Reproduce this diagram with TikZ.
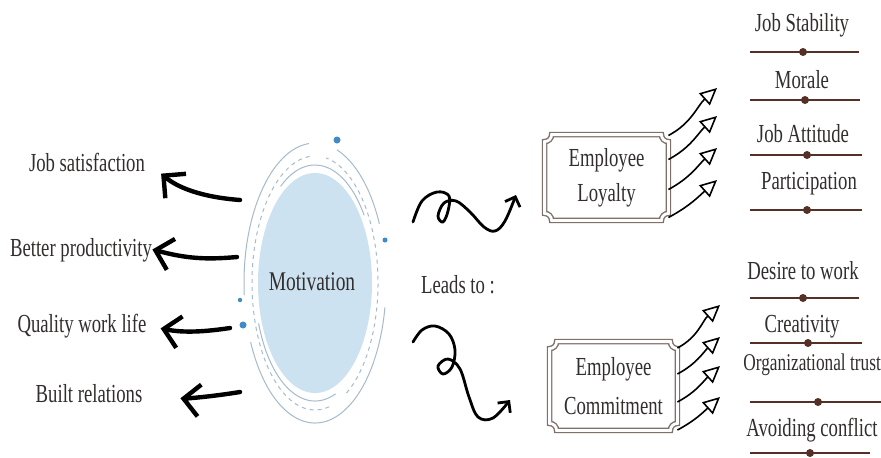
\documentclass[tikz,border=0pt]{standalone}
\usepackage{fontspec}
\setmainfont{Liberation Serif}[FakeStretch=0.72]
\usepackage{tikz}
\usetikzlibrary{arrows.meta}
\usetikzlibrary{positioning}

\definecolor{ink}{RGB}{50,46,45}
\definecolor{skyfill}{RGB}{205,226,241}
\definecolor{ringgray}{RGB}{165,187,205}
\definecolor{dotblue}{RGB}{64,138,200}
\definecolor{rulebrown}{RGB}{84,48,38}
\definecolor{framegray}{RGB}{128,112,106}

\tikzset{
  lbl/.style={text=ink, font=\fontsize{13}{17.5}\selectfont, inner sep=1pt},
  fatarrow/.style={line width=2.2pt, -{Straight Barb[length=8pt,width=16pt]}, line cap=round, line join=round},
  curl/.style={line width=1.4pt, -{Straight Barb[length=4pt,width=8pt]}, line cap=round, line join=round},
  thinarrow/.style={line width=0.8pt, -{Triangle[open,length=8.5pt,width=8pt]}},
  tagframe/.style={draw=framegray, line width=0.7pt, double=white, double distance=1.4pt},
  ring/.style={ringgray, line width=0.5pt},
  rulebar/.style={rulebrown, line width=1.4pt},
}

\newcommand\notchframe[1]{%
  \draw[tagframe] ([xshift=3.5pt]#1.north west) -- ([xshift=-3.5pt]#1.north east)
    arc[start angle=180, end angle=270, radius=3.5pt] -- ([yshift=3.5pt]#1.south east)
    arc[start angle=90, end angle=180, radius=3.5pt] -- ([xshift=3.5pt]#1.south west)
    arc[start angle=0, end angle=90, radius=3.5pt] -- ([yshift=-3.5pt]#1.north west)
    arc[start angle=270, end angle=360, radius=3.5pt] -- cycle;}

\begin{document}
\begin{tikzpicture}[x=0.5pt,y=0.5pt]
  \useasboundingbox (0,0) rectangle (881,457);
  \clip (0,0) rectangle (881,457);
  \fill[white] (0,0) rectangle (881,457);

  % motivation bubble
  \fill[skyfill] (315,174) ellipse [x radius=57, y radius=110];
  \node[lbl, font=\fontsize{13.5}{16}\selectfont] (motiv) at (312,175) {Motivation};
  \draw[ring] (315,174) ++(95:71 and 140) arc[start angle=95, end angle=185, x radius=71, y radius=140];
  \draw[ring] (315,174) ++(205:71 and 140) arc[start angle=205, end angle=350, x radius=71, y radius=140];
  \draw[ring] (315,174) ++(25:71 and 140) arc[start angle=25, end angle=72, x radius=71, y radius=140];
  \draw[ring, dash pattern=on 2pt off 2pt] (315,174) ++(-60:63 and 127) arc[start angle=-60, end angle=80, x radius=63, y radius=127];
  \draw[ring, dash pattern=on 2pt off 2pt] (315,174) ++(95:63 and 127) arc[start angle=95, end angle=285, x radius=63, y radius=127];
  \draw[ring] (315,174) ++(35:60 and 118) arc[start angle=35, end angle=125, x radius=60, y radius=118];
  \draw[ring] (315,174) ++(200:60 and 118) arc[start angle=200, end angle=290, x radius=60, y radius=118];
  \fill[dotblue] (337,317) circle (3.5);
  \fill[dotblue] (385,217) circle (2.5);
  \fill[dotblue] (240,157) circle (2.2);
  \fill[dotblue] (243,132) circle (3.5);

  % outcomes on the left
  \node[lbl] (jobsat) at (87,295) {Job satisfaction};
  \node[lbl] (better) at (81,207) {Better productivity};
  \node[lbl] (quality) at (82,131) {Quality work life};
  \node[lbl] (built) at (89,63) {Built relations};
  \coordinate (m1) at (240,257);
  \coordinate (m2) at (237,200);
  \coordinate (m3) at (230,129);
  \coordinate (m4) at (240,65);
  \draw[fatarrow, shorten >=9pt] (m1) to[bend left=18] (jobsat.east);
  \draw[fatarrow, shorten >=-1pt] (m2) to[bend left=10] (better.east);
  \draw[fatarrow, shorten >=6pt] (m3) to[bend left=10] (quality.east);
  \draw[fatarrow, shorten >=18pt] (m4) to[bend left=8] (built.east);

  \node[lbl] (leads) at (458,172) {Leads to :};
  \draw[curl] plot[smooth, tension=0.6] coordinates {(413,235) (422,256) (437,265) (449,261) (448,246) (443,235) (438,241) (444,254) (456,256) (470,245) (484,230) (495,226) (505,236) (516,262)};
  \draw[curl] plot[smooth, tension=0.6] coordinates {(413,115) (422,127) (435,131) (449,123) (455,107) (452,90) (443,83) (438,91) (448,98) (460,88) (469,60) (478,40) (493,39) (510,57)};

  % the two results
  \node[lbl, align=center, minimum width=61.5pt, minimum height=42.5pt] (loyalty) at (606.5,279.5) {Employee\\Loyalty};
  \node[lbl, align=center, minimum width=63.5pt, minimum height=44pt, font=\fontsize{13}{19.5}\selectfont] (commit) at (613.5,71) {Employee\\Commitment};
  \notchframe{loyalty}
  \notchframe{commit}

  \coordinate (ly1) at (717,369);
  \coordinate (ly2) at (717,341);
  \coordinate (ly3) at (717,309);
  \coordinate (ly4) at (717,277);
  \foreach \dy/\tip in {21/ly1, 9/ly2, -6/ly3, -20/ly4}
    \draw[thinarrow] ([yshift=\dy pt]loyalty.east) to[out=28,in=222] (\tip);
  \coordinate (cm1) at (720,152);
  \coordinate (cm2) at (720,120);
  \coordinate (cm3) at (720,91);
  \coordinate (cm4) at (720,60);
  \foreach \dy/\tip in {19/cm1, 6/cm2, -8/cm3, -22/cm4}
    \draw[thinarrow] ([yshift=\dy pt]commit.east) to[out=28,in=222] (\tip);

  % items
  \foreach \txt/\tx/\ty/\ly/\dx/\rx [count=\k] in {Job Stability/802/432/405/803/859, Morale/802/377/357/805/860,
      Job Attitude/803/323/302/807/862, Participation/809/273/247/807/862,
      Desire to work/803/186/159/803/859, Creativity/802/130/114/808/862, Avoiding conflict/812/27/4/810/870}{
    \node[lbl] (item\k) at (\tx,\ty) {\txt};
    \draw[rulebar] (750,\ly) -- (\rx,\ly);
    \fill[rulebrown] (\dx,\ly) circle (4);
  }
  \node[lbl, anchor=west, font=\fontsize{12}{14}\selectfont] (trust) at (741,92) {Organizational trust};
  \draw[rulebar] (750,55) -- (881,55);
  \fill[rulebrown] (818,55) circle (4);
\end{tikzpicture}
\end{document}
